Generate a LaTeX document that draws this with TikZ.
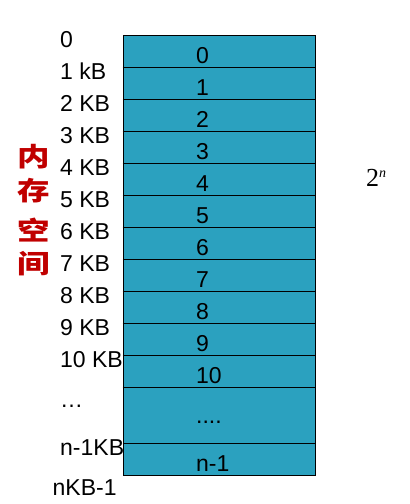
\documentclass[tikz,border=0pt]{standalone}
\usepackage{fontspec}
\setmainfont{Liberation Sans}
\newfontfamily\cjk{Noto Sans CJK SC}
\newfontfamily\serifn{Liberation Serif}
\definecolor{memfill}{RGB}{43,161,191}
\definecolor{memred}{RGB}{192,0,0}
\begin{document}
\begin{tikzpicture}[x=1pt,y=-1pt,
  addr/.style={anchor=base west,inner sep=0pt,font=\fontsize{23}{23}\selectfont},
  cell/.style={anchor=base west,inner sep=0pt,font=\fontsize{23}{23}\selectfont},
  cjkchar/.style={inner sep=0pt,text=memred,xscale=1.25,font=\cjk\bfseries\fontsize{26}{26}\selectfont},
  rowline/.style={draw=black,line width=1pt}]
\useasboundingbox (0,0) rectangle (410,504);
% memory block
\node[draw=black,line width=1pt,fill=memfill,minimum width=192pt,minimum height=440pt,inner sep=0pt,anchor=north west] (mem) at (122.5,35) {};
\foreach \k in {1,...,11} {
  \coordinate (l\k) at (122.5,35+32*\k);
  \coordinate (r\k) at (314.5,35+32*\k);
  \draw[rowline] (l\k) -- (r\k);
}
\coordinate (l12) at (122.5,443);
\coordinate (r12) at (314.5,443);
\draw[rowline] (l12) -- (r12);
% cell labels
\foreach \k in {0,...,10} {
  \node[cell] (c\k) at (196,63+32*\k) {\k};
}
\node[cell] (cdots) at (196,423) {....};
\node[cell] (cn) at (196,471) {n-1};
% address labels
\node[addr] (a0) at (60,47) {0};
\node[addr] (a1) at (60,79) {1 kB};
\foreach \k in {2,...,10} {
  \node[addr] (a\k) at (60,47+32*\k) {\k\ KB};
}
\node[addr] (adots) at (60,407) {\dots};
\node[addr] (an) at (60,455) {n-1KB};
\node[addr] (aend) at (52.5,495) {nKB-1};
% vertical label
\node[cjkchar] (z1) at (34,157) {内};
\node[cjkchar] (z2) at (34,191) {存};
\node[cjkchar] (z3) at (34,230) {空};
\node[cjkchar] (z4) at (34,264) {间};
% 2^n
\node[anchor=base west,inner sep=0pt,font=\serifn\fontsize{26}{26}\selectfont] (pow) at (366,186) {2\raisebox{9pt}{\fontsize{14}{14}\selectfont\itshape n}};
\end{tikzpicture}
\end{document}
